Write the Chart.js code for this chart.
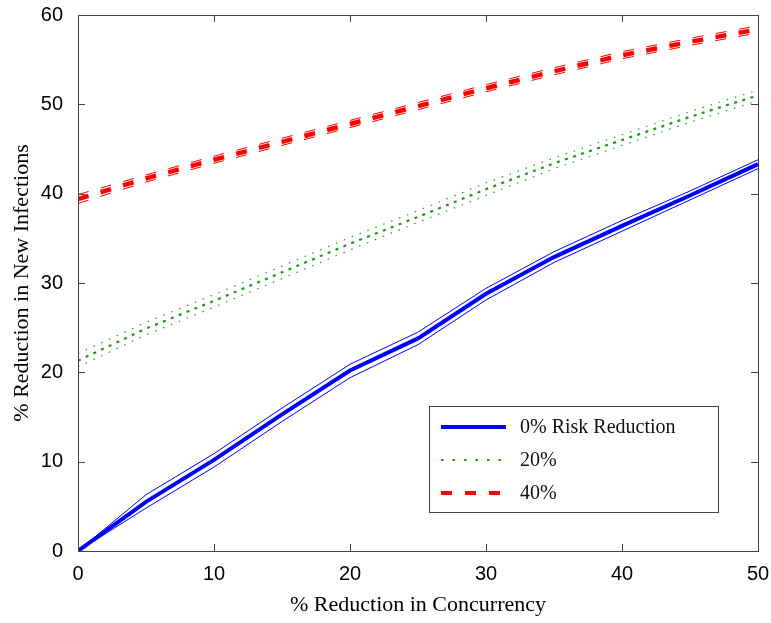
<!DOCTYPE html>
<html>
<head>
<meta charset="utf-8">
<script src="https://cdn.jsdelivr.net/npm/chart.js@4"></script>
<style>
  body { margin: 0; background: #fff; }
  #wrap { width: 771px; height: 623px; }
</style>
</head>
<body>
<div id="wrap"><canvas id="myChart" width="771" height="623"></canvas></div>
<script>
// % reduction in concurrency (x values)
const concurrency = [0, 5, 10, 15, 20, 25, 30, 35, 40, 45, 50]
// 0% risk reduction: mean and bounds
const risk0 = [0, 5.5, 10.2, 15.3, 20.2, 23.8, 28.8, 32.9, 36.4, 39.8, 43.3]
const risk0Hi = [0, 6.3, 10.9, 16.0, 20.9, 24.5, 29.4, 33.5, 37.0, 40.3, 43.8]
const risk0Lo = [0, 4.8, 9.4, 14.5, 19.4, 23.1, 28.1, 32.3, 35.8, 39.3, 42.8]
// 20% risk reduction
const risk20 = [21.3, 24.9, 28.0, 31.2, 34.4, 37.4, 40.5, 43.4, 46.0, 48.6, 51.0]
const risk20Hi = [22.1, 25.6, 28.7, 31.9, 35.1, 38.1, 41.2, 44.0, 46.6, 49.2, 51.6]
const risk20Lo = [20.6, 24.2, 27.3, 30.5, 33.7, 36.8, 39.8, 42.8, 45.4, 48.0, 50.4]
// 40% risk reduction
const risk40 = [39.4, 41.7, 43.8, 45.8, 47.8, 49.8, 51.8, 53.7, 55.5, 57.0, 58.4]
const risk40Hi = [39.9, 42.1, 44.2, 46.2, 48.2, 50.2, 52.2, 54.1, 55.9, 57.4, 58.8]
const risk40Lo = [38.9, 41.3, 43.4, 45.4, 47.4, 49.4, 51.4, 53.3, 55.1, 56.6, 58.0]
// tick values
const xTicks = [0, 10, 20, 30, 40, 50]
const yTicks = [0, 10, 20, 30, 40, 50, 60]
const legendLabels = ['0% Risk Reduction', '20%', '40%']

const blue = '#0000ff'
const green = '#1c9a1c'
const red = '#ff0000'

function pts(ys) {
    return concurrency.map((x, i) => ({x: x, y: ys[i]}))
}

function line(label, ys, color, width, dash, legend) {
    return {
        label: label,
        data: pts(ys),
        borderColor: color,
        backgroundColor: color,
        borderWidth: width,
        borderDash: dash,
        borderCapStyle: 'butt',
        pointRadius: 0,
        fill: false,
        tension: 0,
        legend: legend
    }
}

const datasets = [
    line('40% hi', risk40Hi, red, 1, [11, 12.5], false),
    line('40% lo', risk40Lo, red, 1, [11, 12.5], false),
    line(legendLabels[2], risk40, red, 4.5, [11, 12.5], true),
    line('20% hi', risk20Hi, green, 1.2, [1.5, 7], false),
    line('20% lo', risk20Lo, green, 1.2, [1.5, 7], false),
    line(legendLabels[1], risk20, green, 2.2, [3, 5.5], true),
    line('0% hi', risk0Hi, blue, 1, [], false),
    line('0% lo', risk0Lo, blue, 1, [], false),
    line(legendLabels[0], risk0, blue, 4, [], true)
]

// box around the plot and ticks pointing inward, on all four sides
const framePlugin = {
    id: 'frame',
    afterDatasetsDraw(chart) {
        const c = chart.ctx
        const a = chart.chartArea
        const xs = chart.scales.x
        const ys = chart.scales.y
        c.save()
        c.strokeStyle = '#444'
        c.lineWidth = 1
        c.strokeRect(a.left + 0.5, a.top + 0.5, a.right - a.left, a.bottom - a.top)
        c.beginPath()
        xTicks.forEach(v => {
            const px = Math.round(xs.getPixelForValue(v)) + 0.5
            c.moveTo(px, a.bottom); c.lineTo(px, a.bottom - 7)
            c.moveTo(px, a.top); c.lineTo(px, a.top + 7)
        })
        yTicks.forEach(v => {
            const py = Math.round(ys.getPixelForValue(v)) + 0.5
            c.moveTo(a.left, py); c.lineTo(a.left + 7, py)
            c.moveTo(a.right, py); c.lineTo(a.right - 7, py)
        })
        c.stroke()
        c.restore()
    }
}

// legend box inside the plot, bottom right
const legendPlugin = {
    id: 'boxLegend',
    afterDraw(chart) {
        const c = chart.ctx
        const items = chart.data.datasets.filter(d => d.legend).reverse()
        const bx = 429, by = 406, bw = 289, bh = 106
        c.save()
        c.fillStyle = '#fff'
        c.fillRect(bx, by, bw, bh)
        c.strokeStyle = '#444'
        c.lineWidth = 1
        c.strokeRect(bx + 0.5, by + 0.5, bw, bh)
        c.font = '20px "Liberation Serif", "Times New Roman", serif'
        c.textBaseline = 'middle'
        c.fillStyle = '#111'
        items.forEach((d, i) => {
            const y = by + 21 + i * 33
            c.beginPath()
            c.strokeStyle = d.borderColor
            c.lineWidth = d.label === '20%' ? 2.2 : 4
            c.setLineDash(d.label === '20%' ? [2.5, 9] : (d.label === '40%' ? [11, 13] : []))
            c.moveTo(441, y); c.lineTo(506, y)
            c.stroke()
            c.setLineDash([])
            c.fillText(d.label, 520, y + 1)
        })
        c.restore()
    }
}

new Chart(document.getElementById('myChart'), {
    type: 'line',
    data: { datasets: datasets },
    plugins: [framePlugin, legendPlugin],
    options: {
        responsive: false,
        animation: false,
        layout: { padding: { left: 0, right: 13, top: 15, bottom: 0 } },
        plugins: { legend: { display: false }, tooltip: { enabled: false } },
        scales: {
            x: {
                type: 'linear',
                min: 0, max: 50,
                afterFit: s => { s.height = 72; s.paddingLeft = 0; s.paddingRight = 0 },
                afterBuildTicks: s => { s.ticks = xTicks.map(v => ({value: v})) },
                grid: { display: false },
                border: { display: false },
                ticks: {
                    color: '#000',
                    padding: 3,
                    font: { family: '"Liberation Sans", Arial, sans-serif', size: 20 }
                },
                title: {
                    display: true,
                    text: '% Reduction in Concurrency',
                    color: '#000',
                    padding: { top: 0, bottom: 5 },
                    font: { family: '"Liberation Serif", "Times New Roman", serif', size: 22 }
                }
            },
            y: {
                type: 'linear',
                min: 0, max: 60,
                afterFit: s => { s.width = 78; s.paddingTop = 0; s.paddingBottom = 0 },
                afterBuildTicks: s => { s.ticks = yTicks.map(v => ({value: v})) },
                grid: { display: false },
                border: { display: false },
                ticks: {
                    color: '#000',
                    padding: 7,
                    font: { family: '"Liberation Sans", Arial, sans-serif', size: 20 }
                },
                title: {
                    display: true,
                    text: '% Reduction in New Infections',
                    color: '#000',
                    padding: { top: 9, bottom: 0 },
                    font: { family: '"Liberation Serif", "Times New Roman", serif', size: 22 }
                }
            }
        }
    }
});
</script>
</body>
</html>
